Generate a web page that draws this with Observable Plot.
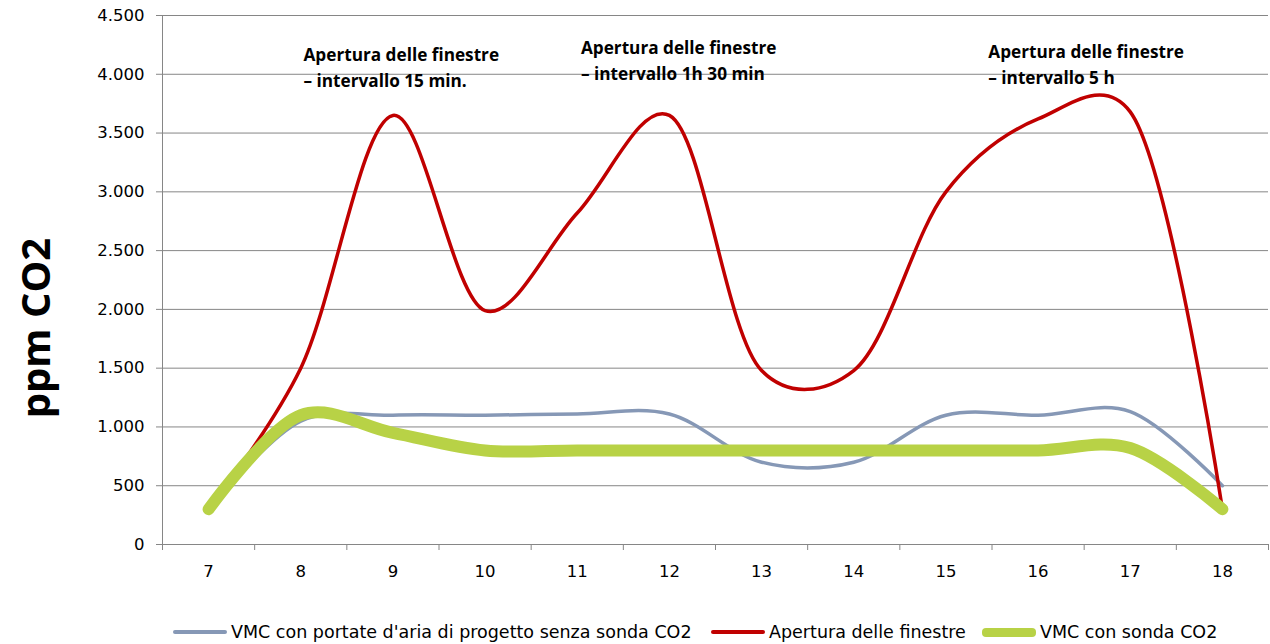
<!DOCTYPE html>
<html>
<head>
<meta charset="utf-8">
<script src="https://cdn.jsdelivr.net/npm/d3@7"></script>
<script src="https://cdn.jsdelivr.net/npm/@observablehq/plot@0.6"></script>
<style>
  html, body { margin: 0; padding: 0; background: #fff; }
  #wrap { position: relative; width: 1270px; height: 644px; font-family: "DejaVu Sans", sans-serif; }
  #legend { position: absolute; left: 0; top: 622px; font-size: 17.5px; color: #000; white-space: nowrap; }
  .item { display: flex; align-items: center; height: 20px; }
  .sw { display: inline-block; width: 54px; margin-right: 4px; border-radius: 4px; }
</style>
</head>
<body>
<div id="wrap"></div>
<script>
const hours = [7, 8, 9, 10, 11, 12, 13, 14, 15, 16, 17, 18];
const vmcSenzaSonda = [300, 1050, 1100, 1100, 1110, 1110, 700, 700, 1100, 1100, 1130, 500];
const aperturaFinestre = [300, 1500, 3650, 1990, 2820, 3650, 1480, 1480, 3000, 3620, 3680, 300];
const vmcConSonda = [300, 1100, 950, 800, 800, 800, 800, 800, 800, 800, 820, 300];

const seriesNames = ["VMC con portate d'aria di progetto senza sonda CO2", "Apertura delle finestre", "VMC con sonda CO2"];
const seriesColors = ["#8698b6", "#c00000", "#b8d246"];
const seriesWidths = [3.5, 3.5, 12];

const yTicks = [0, 500, 1000, 1500, 2000, 2500, 3000, 3500, 4000, 4500];
const xBoundaries = [6.5, 7.5, 8.5, 9.5, 10.5, 11.5, 12.5, 13.5, 14.5, 15.5, 16.5, 17.5, 18.5];

const noteText = ["Apertura delle finestre\n– intervallo 15 min.", "Apertura delle finestre\n– intervallo 1h 30 min", "Apertura delle finestre\n– intervallo 5 h"];
const noteX = [8.03, 11.04, 15.46];
const noteY = [4270, 4330, 4295];

const itFormat = d3.formatLocale({decimal: ",", thousands: ".", grouping: [3], currency: ["", "€"]}).format(",");

const allSeries = [vmcSenzaSonda, aperturaFinestre, vmcConSonda].map((vals, s) =>
  hours.map((h, i) => ({hour: h, value: vals[i], series: seriesNames[s]})));

const smooth = d3.curveCatmullRom.alpha(0.25);

const plot = Plot.plot({
  width: 1270,
  height: 600,
  marginLeft: 162,
  marginRight: 2,
  marginTop: 15,
  marginBottom: 56,
  style: {fontFamily: "'DejaVu Sans', sans-serif", fontSize: "16.5px", color: "#000", background: "#fff"},
  x: {domain: [6.5, 18.5]},
  y: {domain: [0, 4500]},
  marks: [
    Plot.gridY(yTicks, {stroke: "#868686", strokeOpacity: 1, strokeWidth: 1}),
    Plot.axisY(yTicks, {tickFormat: itFormat, tickSize: 6, tickPadding: 12, stroke: "#868686", fontSize: 16.5, label: null}),
    Plot.axisX(xBoundaries, {tickSize: 6, tickFormat: () => "", stroke: "#868686", label: null}),
    Plot.axisX(hours, {tickSize: 0, tickPadding: 21, fontSize: 16.5, label: null}),
    Plot.ruleX([6.5], {stroke: "#868686", strokeWidth: 1}),
    Plot.ruleY([0], {stroke: "#868686", strokeWidth: 1}),
    ...allSeries.map((data, s) => Plot.line(data, {
      x: "hour", y: "value", stroke: seriesColors[s], strokeWidth: seriesWidths[s], curve: smooth, strokeLinecap: "round"
    })),
    Plot.text(noteText, {x: (d, i) => noteX[i], y: (d, i) => noteY[i], text: d => d, textAnchor: "start", lineAnchor: "top", lineHeight: 1.5, fontSize: 17.2, fontWeight: "bold", fontFamily: "'Open Sans', sans-serif", fill: "#000"}),
    Plot.text(["ppm CO2"], {frameAnchor: "left", textAnchor: "middle", dx: -125, dy: 48, rotate: -90, fontSize: 40, fontWeight: "bold", fontFamily: "'Open Sans', sans-serif", fill: "#000"})
  ]
});

const wrap = document.getElementById("wrap");
wrap.appendChild(plot);

const legend = document.createElement("div");
legend.id = "legend";
const legendLeft = [173, 711, 982];
seriesNames.forEach((name, s) => {
  const item = document.createElement("div");
  item.className = "item";
  item.style.position = "absolute";
  item.style.left = legendLeft[s] + "px";
  const sw = document.createElement("span");
  sw.className = "sw";
  sw.style.background = seriesColors[s];
  sw.style.height = (s === 2 ? 9 : 4) + "px";
  const label = document.createElement("span");
  label.textContent = name;
  item.appendChild(sw);
  item.appendChild(label);
  legend.appendChild(item);
});
wrap.appendChild(legend);
</script>
</body>
</html>
